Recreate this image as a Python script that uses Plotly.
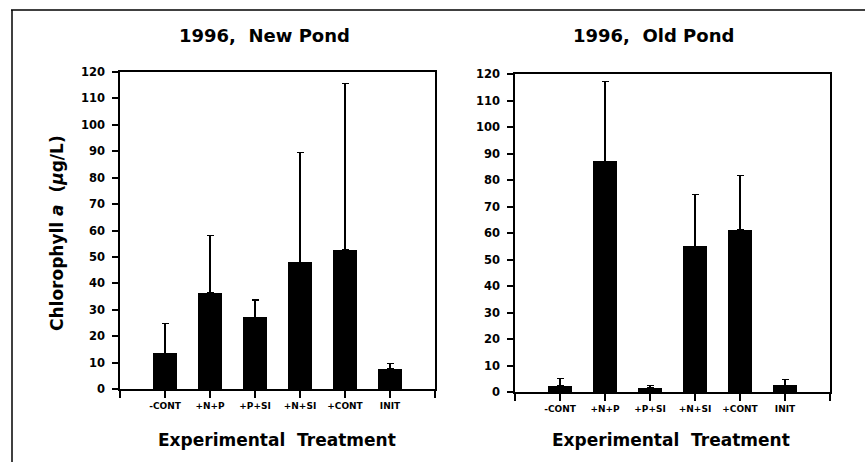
import plotly.graph_objects as go

W, H = 865, 462

categories = ["-CONT", "+N+P", "+P+SI", "+N+SI", "+CONT", "INIT"]
new_pond_values = [13.5, 36.5, 27.2, 47.9, 52.8, 7.6]
new_pond_err_top = [24.7, 58.1, 33.7, 89.6, 115.8, 9.8]
old_pond_values = [2.4, 87.0, 1.5, 55.0, 61.2, 2.5]
old_pond_err_top = [5.2, 117.3, 2.6, 74.5, 81.6, 4.7]
y_ticks = list(range(0, 121, 10))

FONT = "DejaVu Sans"
positions = list(range(1, len(categories) + 1))


def bar_trace(values, err_top, xa, ya):
    plus = [t - v for t, v in zip(err_top, values)]
    return go.Bar(
        x=positions, y=values, width=0.52,
        marker=dict(color="black", line=dict(width=0)),
        error_y=dict(type="data", array=plus, arrayminus=[0] * len(values),
                     symmetric=False, color="black", thickness=1.2, width=3.5),
        xaxis=xa, yaxis=ya, showlegend=False,
    )


fig = go.Figure()
fig.add_trace(bar_trace(new_pond_values, new_pond_err_top, "x", "y"))
fig.add_trace(bar_trace(old_pond_values, old_pond_err_top, "x2", "y2"))

xcommon = dict(
    range=[0, 7], tickmode="array", tickvals=list(range(0, 8)),
    ticktext=[""] + categories + [""],
    ticks="outside", ticklen=7, tickwidth=1.5, tickcolor="black",
    showline=True, linecolor="black", linewidth=1.5, mirror=True,
    showgrid=False, zeroline=False, automargin=False, fixedrange=True,
    tickfont=dict(family=FONT, size=9, color="black", weight="bold"),
)
ycommon = dict(
    range=[0, 120], tickmode="array", tickvals=y_ticks,
    ticks="outside", ticklen=6, tickwidth=1.5, tickcolor="black",
    showline=True, linecolor="black", linewidth=1.5, mirror=True,
    showgrid=False, zeroline=False, automargin=False, fixedrange=True,
    ticklabelstandoff=5,
    tickfont=dict(family=FONT, size=11.5, color="black", weight="bold"),
)

fig.update_layout(
    width=W, height=H,
    margin=dict(l=0, r=0, t=0, b=0),
    paper_bgcolor="white", plot_bgcolor="white",
    template="none",
    bargap=0,
    xaxis=dict(domain=[120 / W, 435 / W], anchor="y", **xcommon),
    yaxis=dict(domain=[(H - 389) / H, (H - 72) / H], anchor="x", **ycommon),
    xaxis2=dict(domain=[515 / W, 830 / W], anchor="y2", **xcommon),
    yaxis2=dict(domain=[(H - 392) / H, (H - 74) / H], anchor="x2", **ycommon),
)

ann_font_title = dict(family=FONT, size=18, color="black", weight="bold")
ann_font_axis = dict(family=FONT, size=17, color="black", weight="bold")
annotations = [
    dict(text="1996,  New Pond", x=264 / W, y=1 - 35 / H, font=ann_font_title),
    dict(text="1996,  Old Pond", x=653 / W, y=1 - 35 / H, font=ann_font_title),
    dict(text="Experimental  Treatment", x=277 / W, y=1 - 440 / H, font=ann_font_axis),
    dict(text="Experimental  Treatment", x=671 / W, y=1 - 440 / H, font=ann_font_axis),
    dict(text="Chlorophyll <i>a</i>  (<i>μ</i>g/L)", x=57 / W, y=1 - 233 / H,
         textangle=-90, font=ann_font_axis),
]
for a in annotations:
    a.update(xref="paper", yref="paper", xanchor="center", yanchor="middle",
             showarrow=False)
fig.update_layout(annotations=annotations)

fig.add_shape(type="line", xref="paper", yref="paper",
              x0=11 / W, x1=1, y0=1 - 10 / H, y1=1 - 10 / H,
              line=dict(color="black", width=1.5))
fig.add_shape(type="line", xref="paper", yref="paper",
              x0=12 / W, x1=12 / W, y0=1 - 10 / H, y1=0,
              line=dict(color="black", width=1.5))

fig.write_html(
    "out.html",
    config=dict(displayModeBar=False),
    post_script="document.body.style.margin='0';document.body.style.overflow='hidden';",
)
